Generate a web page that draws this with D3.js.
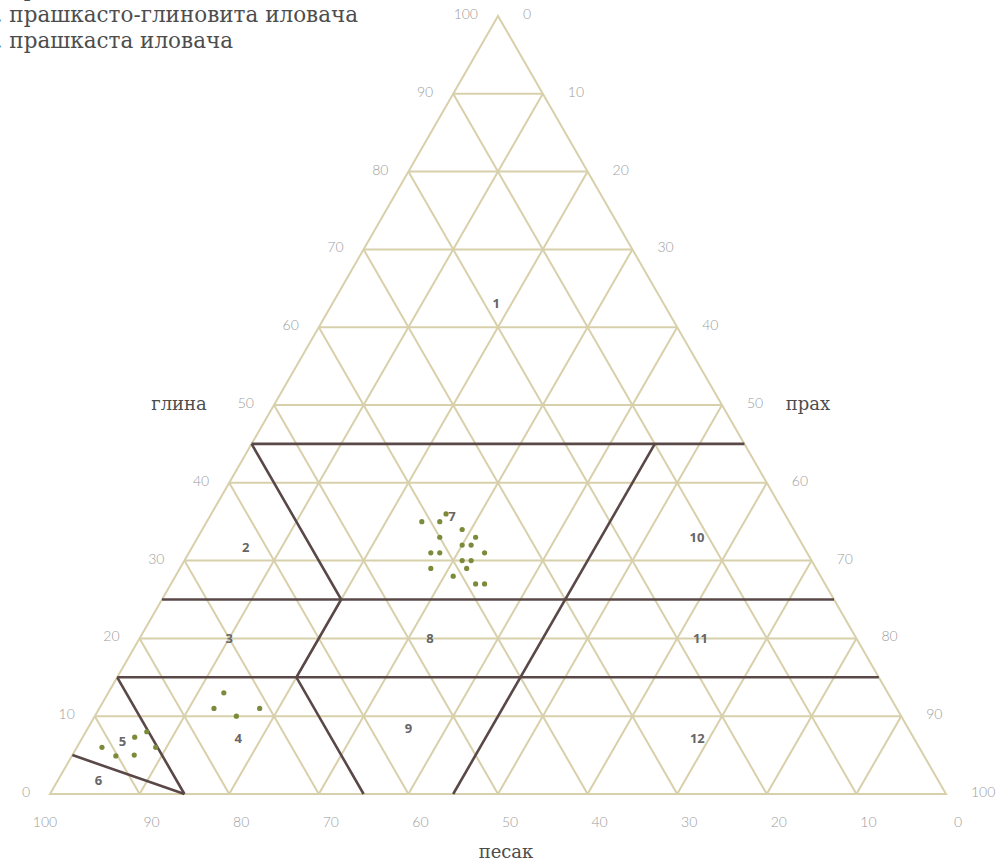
<!DOCTYPE html>
<html>
<head>
<meta charset="utf-8">
<script src="https://cdn.jsdelivr.net/npm/d3@7"></script>
<style>
  body { margin: 0; background: #fff; }
  svg { display: block; }
</style>
</head>
<body>
<script>
var w = 1000;
var h = 861;

// tick values on each side (percent)
var clayTicks = [0, 10, 20, 30, 40, 50, 60, 70, 80, 90, 100];
var siltTicks = [0, 10, 20, 30, 40, 50, 60, 70, 80, 90, 100];
var sandTicks = [100, 90, 80, 70, 60, 50, 40, 30, 20, 10, 0];
var gridSteps = [10, 20, 30, 40, 50, 60, 70, 80, 90];

// legend rows (top left, partly cut off)
var legendRows = ["6. прашкаста глина", "7. прашкасто-глиновита иловача", "8. прашкаста иловача"];

// class boundaries, each a polyline of [clay, silt] points
var boundaries = [
  [[45, 0], [45, 55]],
  [[25, 0], [25, 75]],
  [[15, 0], [15, 85]],
  [[45, 0], [25, 20], [15, 20], [0, 35]],
  [[45, 45], [0, 45]],
  [[15, 0], [0, 15]],
  [[5, 0], [0, 15]]
];

// class numbers with label anchor [clay, silt]
var classNames = ["1", "2", "3", "4", "5", "6", "7", "8", "9", "10", "11", "12"];
var classClay = [63, 31.7, 20, 7.2, 6.8, 1.8, 35.7, 20, 8.4, 33, 20, 7.1];
var classSilt = [18.3, 6, 10, 17.4, 4.7, 4.5, 27, 32.4, 35.8, 55.7, 62.6, 68.7];

// samples: clay %, silt %
var sampleClay = [35, 35, 36, 34, 33, 33, 32, 32, 31, 31, 31, 30, 30, 29, 29, 28, 27, 27,
                  13, 11, 10, 11, 7.3, 8, 6, 4.9, 5, 6];
var sampleSilt = [24, 26, 26.2, 29, 31, 27, 30, 31, 27, 28, 33, 31, 32, 28, 32, 31, 34, 35,
                  12.9, 12.8, 15.8, 17.9, 5.8, 6.8, 2.8, 4.9, 6.9, 8.8];

var gridColor = "#d8d0ab";
var lineColor = "#5a4848";

var xScale = d3.scaleLinear().domain([0, 100]).range([50, 946]);
var yScale = d3.scaleLinear().domain([0, 100]).range([794, 16]);

function px(clay, silt) { return xScale(silt + clay / 2); }
function py(clay) { return yScale(clay); }

var svg = d3.select("body").append("svg")
    .attr("width", w)
    .attr("height", h);

//---grid----
var grid = svg.append("g")
    .attr("fill", "none")
    .attr("stroke", gridColor)
    .attr("stroke-width", 2);

// constant clay (horizontal)
grid.selectAll(".gc").data(gridSteps).enter().append("line")
    .attr("x1", function (d) { return px(d, 0); })
    .attr("y1", function (d) { return py(d); })
    .attr("x2", function (d) { return px(d, 100 - d); })
    .attr("y2", function (d) { return py(d); });

// constant silt (parallel to left side)
grid.selectAll(".gs").data(gridSteps).enter().append("line")
    .attr("x1", function (d) { return px(0, d); })
    .attr("y1", py(0))
    .attr("x2", function (d) { return px(100 - d, d); })
    .attr("y2", function (d) { return py(100 - d); });

// constant sand (parallel to right side)
grid.selectAll(".gd").data(gridSteps).enter().append("line")
    .attr("x1", function (d) { return px(0, 100 - d); })
    .attr("y1", py(0))
    .attr("x2", function (d) { return px(100 - d, 0); })
    .attr("y2", function (d) { return py(100 - d); });

grid.append("path")
    .attr("d", d3.line()([[px(0, 0), py(0)], [px(0, 100), py(0)], [px(100, 0), py(100)]]) + "Z")
    .attr("stroke-linejoin", "miter");

//---class boundaries----
var lineGen = d3.line()
    .x(function (d) { return px(d[0], d[1]); })
    .y(function (d) { return py(d[0]); });

svg.append("g").selectAll("path").data(boundaries).enter().append("path")
    .attr("d", lineGen)
    .attr("fill", "none")
    .attr("stroke", lineColor)
    .attr("stroke-width", 2.6);

//---class numbers----
svg.append("g").selectAll("text").data(classNames).enter().append("text")
    .text(function (d) { return d; })
    .attr("x", function (d, i) { return px(classClay[i], classSilt[i]); })
    .attr("y", function (d, i) { return py(classClay[i]); })
    .attr("dy", "0.35em")
    .attr("text-anchor", "middle")
    .attr("font-family", "Open Sans")
    .attr("font-weight", "bold")
    .attr("font-size", 13)
    .attr("fill", "#666");

//---samples----
svg.append("g").selectAll("circle").data(sampleClay).enter().append("circle")
    .attr("cx", function (d, i) { return px(d, sampleSilt[i]); })
    .attr("cy", function (d) { return py(d); })
    .attr("r", 2.6)
    .attr("fill", "#7b8b3b");

//---tick labels----
var ticks = svg.append("g")
    .attr("font-family", "Lato")
    .attr("font-weight", 300)
    .attr("font-size", 14)
    .attr("fill", "#9d9d9d");

ticks.selectAll(".tl").data(clayTicks).enter().append("text")
    .text(function (d) { return d; })
    .attr("x", function (d) { return px(d, 0) - 20; })
    .attr("y", function (d) { return py(d) - 2; })
    .attr("dy", "0.35em")
    .attr("text-anchor", "end");

ticks.selectAll(".tr").data(siltTicks).enter().append("text")
    .text(function (d) { return d; })
    .attr("x", function (d) { return px(100 - d, d) + 25; })
    .attr("y", function (d) { return py(100 - d) - 2; })
    .attr("dy", "0.35em")
    .attr("text-anchor", "start");

ticks.selectAll(".tb").data(sandTicks).enter().append("text")
    .text(function (d) { return d; })
    .attr("x", function (d, i) { return px(0, 100 - d) + (i === 0 ? -5 : 12); })
    .attr("y", py(0) + 28)
    .attr("dy", "0.35em")
    .attr("text-anchor", "middle");

//---axis titles----
var titles = svg.append("g")
    .attr("font-family", "DejaVu Serif")
    .attr("font-size", 18)
    .attr("fill", "#4d4d4d")
    .attr("text-anchor", "middle");

titles.append("text").text("глина")
    .attr("x", px(50, 0) - 95).attr("y", py(50) - 1).attr("dy", "0.35em");
titles.append("text").text("прах")
    .attr("x", px(50, 50) + 86).attr("y", py(50) - 1).attr("dy", "0.35em");
titles.append("text").text("песак")
    .attr("x", px(0, 50) + 8).attr("y", py(0) + 58).attr("dy", "0.35em");

//---legend----
svg.append("g").selectAll("text").data(legendRows).enter().append("text")
    .text(function (d) { return d; })
    .attr("x", -18)
    .attr("y", function (d, i) { return -4.5 + i * 26; })
    .attr("font-family", "DejaVu Serif")
    .attr("font-size", 21.5)
    .attr("fill", "#4d4d4d");
</script>
</body>
</html>
